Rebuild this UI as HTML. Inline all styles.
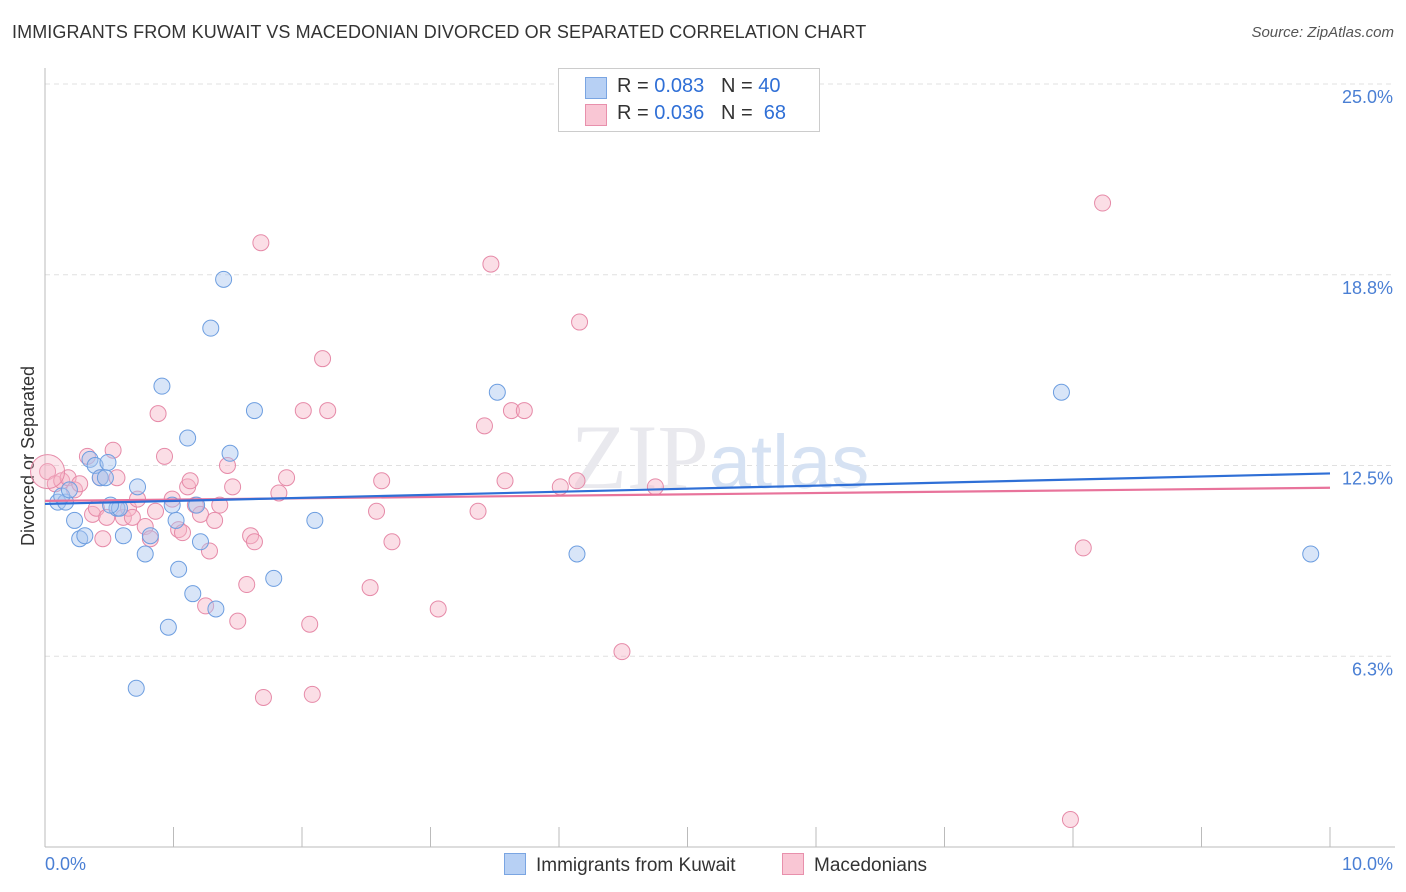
<!DOCTYPE html>
<html><head><meta charset="utf-8">
<style>
body{margin:0;background:#fff;font-family:"Liberation Sans",sans-serif;}
#wrap{position:relative;width:1406px;height:892px;}
.t{position:absolute;}
</style></head>
<body>
<div id="wrap">
<div class="t" style="left:12px;top:22px;font-size:18px;color:#333;letter-spacing:0.1px">IMMIGRANTS FROM KUWAIT VS MACEDONIAN DIVORCED OR SEPARATED CORRELATION CHART</div>
<div class="t" style="right:12px;top:24px;font-size:15px;color:#555;font-style:italic">Source: ZipAtlas.com</div>
<svg id="svg" width="1406" height="892" style="position:absolute;left:0;top:0"></svg>
</div>
<script>
const xTicks=[0,1,2,3,4,5,6,7,8,9,10];
const yTickVals=[6.25,12.5,18.75,25];
const yTickLabels=["6.3%","12.5%","18.8%","25.0%"];
const blueX=[0.10,0.16,0.23,0.27,0.31,0.35,0.39,0.43,0.49,0.47,0.56,0.58,0.61,0.72,0.78,0.82,0.91,0.96,0.99,1.02,1.04,1.11,1.15,1.18,1.21,1.29,1.33,1.39,1.44,1.63,1.78,2.10,0.71,3.52,4.14,7.91,9.85,0.13,0.19,0.51];
const blueY=[11.3,11.3,10.7,10.1,10.2,12.7,12.5,12.1,12.6,12.1,11.1,11.1,10.2,11.8,9.6,10.2,15.1,7.2,11.2,10.7,9.1,13.4,8.3,11.2,10.0,17.0,7.8,18.6,12.9,14.3,8.8,10.7,5.2,14.9,9.6,14.9,9.6,11.5,11.7,11.2];
const pinkX=[0.02,0.08,0.13,0.18,0.23,0.27,0.33,0.37,0.40,0.45,0.48,0.53,0.56,0.61,0.65,0.68,0.72,0.78,0.82,0.86,0.88,0.93,0.99,1.04,1.07,1.11,1.13,1.17,1.21,1.25,1.28,1.32,1.36,1.42,1.46,1.50,1.57,1.60,1.63,1.68,1.70,1.82,1.88,2.01,2.06,2.08,2.16,2.20,2.53,2.58,2.62,2.70,3.06,3.37,3.42,3.47,3.58,3.63,3.73,4.01,4.14,4.16,4.49,4.75,7.98,8.08,8.23,0.43];
const pinkY=[12.3,11.9,12.0,12.1,11.7,11.9,12.8,10.9,11.1,10.1,10.8,13.0,12.1,10.8,11.1,10.8,11.4,10.5,10.1,11.0,14.2,12.8,11.4,10.4,10.3,11.8,12.0,11.2,10.9,7.9,9.7,10.7,11.2,12.5,11.8,7.4,8.6,10.2,10.0,19.8,4.9,11.6,12.1,14.3,7.3,5.0,16.0,14.3,8.5,11.0,12.0,10.0,7.8,11.0,13.8,19.1,12.0,14.3,14.3,11.8,12.0,17.2,6.4,11.8,0.9,9.8,21.1,12.1];
const blueLine=[11.24,0.10];
const pinkLine=[11.34,0.043];
const svg=document.getElementById('svg');
const NS='http://www.w3.org/2000/svg';
const X0=45,X1=1330,Y0=847,Y25=84;
const sx=v=>X0+(X1-X0)*v/10;
const sy=v=>Y0-(Y0-Y25)*v/25;
function mk(t,a){const e=document.createElementNS(NS,t);for(const k in a)e.setAttribute(k,a[k]);svg.appendChild(e);return e;}
// grid
yTickVals.forEach((v,i)=>{
 const g=mk('line',{x1:X0,x2:1395,y1:sy(v),y2:sy(v),stroke:'#e0e0e0','stroke-dasharray':'5,4'});
 
 
 const t=mk('text',{x:1393,y:sy(v)+19,'text-anchor':'end','font-size':18,fill:'#4a7fd4','font-family':'Liberation Sans'});
 t.textContent=yTickLabels[i];
 
 
});
const ax=mk('line',{x1:X0,x2:X0,y1:68,y2:Y0,stroke:'#bbb'});


const axx=mk('line',{x1:X0,x2:1395,y1:Y0,y2:Y0,stroke:'#bbb'});


xTicks.forEach(v=>{
 const l=mk('line',{x1:sx(v),x2:sx(v),y1:Y0,y2:Y0-20,stroke:'#bbb'});
 
 
});
[[0,"0.0%",'start',45],[10,"10.0%",'end',1393]].forEach(a=>{
 const t=mk('text',{x:a[3],y:870,'text-anchor':a[2],'font-size':18,fill:'#4a7fd4','font-family':'Liberation Sans'});
 t.textContent=a[1];
 
 
});
const yt=mk('text',{x:34,y:456,'text-anchor':'middle','font-size':18,fill:'#333',transform:'rotate(-90 34 456)','font-family':'Liberation Sans'});
yt.textContent='Divorced or Separated';


// watermark
const wm=mk('text',{x:720,y:488,'text-anchor':'middle','font-size':92,fill:'#e9e9ee','font-family':'Liberation Serif'});
wm.innerHTML='ZIP<tspan fill="#d6e2f3" font-family="Liberation Sans" font-size="76">atlas</tspan>';


function pts(xs,ys,fill,stroke,name){
 xs.forEach((x,i)=>{
  const c=mk('circle',{cx:sx(x),cy:sy(ys[i]),r:8,fill:fill,'fill-opacity':0.45,stroke:stroke,'stroke-width':1});
  
  
 });
}
pts(pinkX,pinkY,'#f7b6c8','#e68aa8','point-macedonians');
const big=mk('circle',{cx:sx(pinkX[0]),cy:sy(pinkY[0]),r:17,fill:'#f7b6c8','fill-opacity':0.35,stroke:'#e68aa8'});


pts(blueX,blueY,'#a9c6f0','#6d9ee0','point-kuwait');
function line(p,col,name){
 const l=mk('line',{x1:sx(0),y1:sy(p[0]),x2:sx(10),y2:sy(p[0]+p[1]*10),stroke:col,'stroke-width':2.2});
 
 
}
line(pinkLine,'#e8739b','trend-macedonians');
line(blueLine,'#2f6fd6','trend-kuwait');
</script>
<div class="t" style="left:558px;top:68px;width:260px;height:62px;border:1px solid #ccc;background:#fff;font-size:20px;color:#333">
 <div style="position:absolute;left:26px;top:8px;width:20px;height:20px;background:#b7d0f4;border:1px solid #7aa5e2"></div>
 <div style="position:absolute;left:58px;top:6px">R = <span style="color:#2f6fd6">0.083</span>&nbsp;&nbsp;&nbsp;N = <span style="color:#2f6fd6">40</span></div>
 <div style="position:absolute;left:26px;top:35px;width:20px;height:20px;background:#f9c6d4;border:1px solid #e890ac"></div>
 <div style="position:absolute;left:58px;top:33px">R = <span style="color:#2f6fd6">0.036</span>&nbsp;&nbsp;&nbsp;N = &nbsp;<span style="color:#2f6fd6">68</span></div>
</div>
<div class="t" style="left:504px;top:853px;font-size:19px;color:#333"><span style="display:inline-block;width:20px;height:20px;background:#b7d0f4;border:1px solid #7aa5e2;vertical-align:-4px;margin-right:10px"></span>Immigrants from Kuwait</div>
<div class="t" style="left:782px;top:853px;font-size:19px;color:#333"><span style="display:inline-block;width:20px;height:20px;background:#f9c6d4;border:1px solid #e890ac;vertical-align:-4px;margin-right:10px"></span>Macedonians</div>
</body></html>
